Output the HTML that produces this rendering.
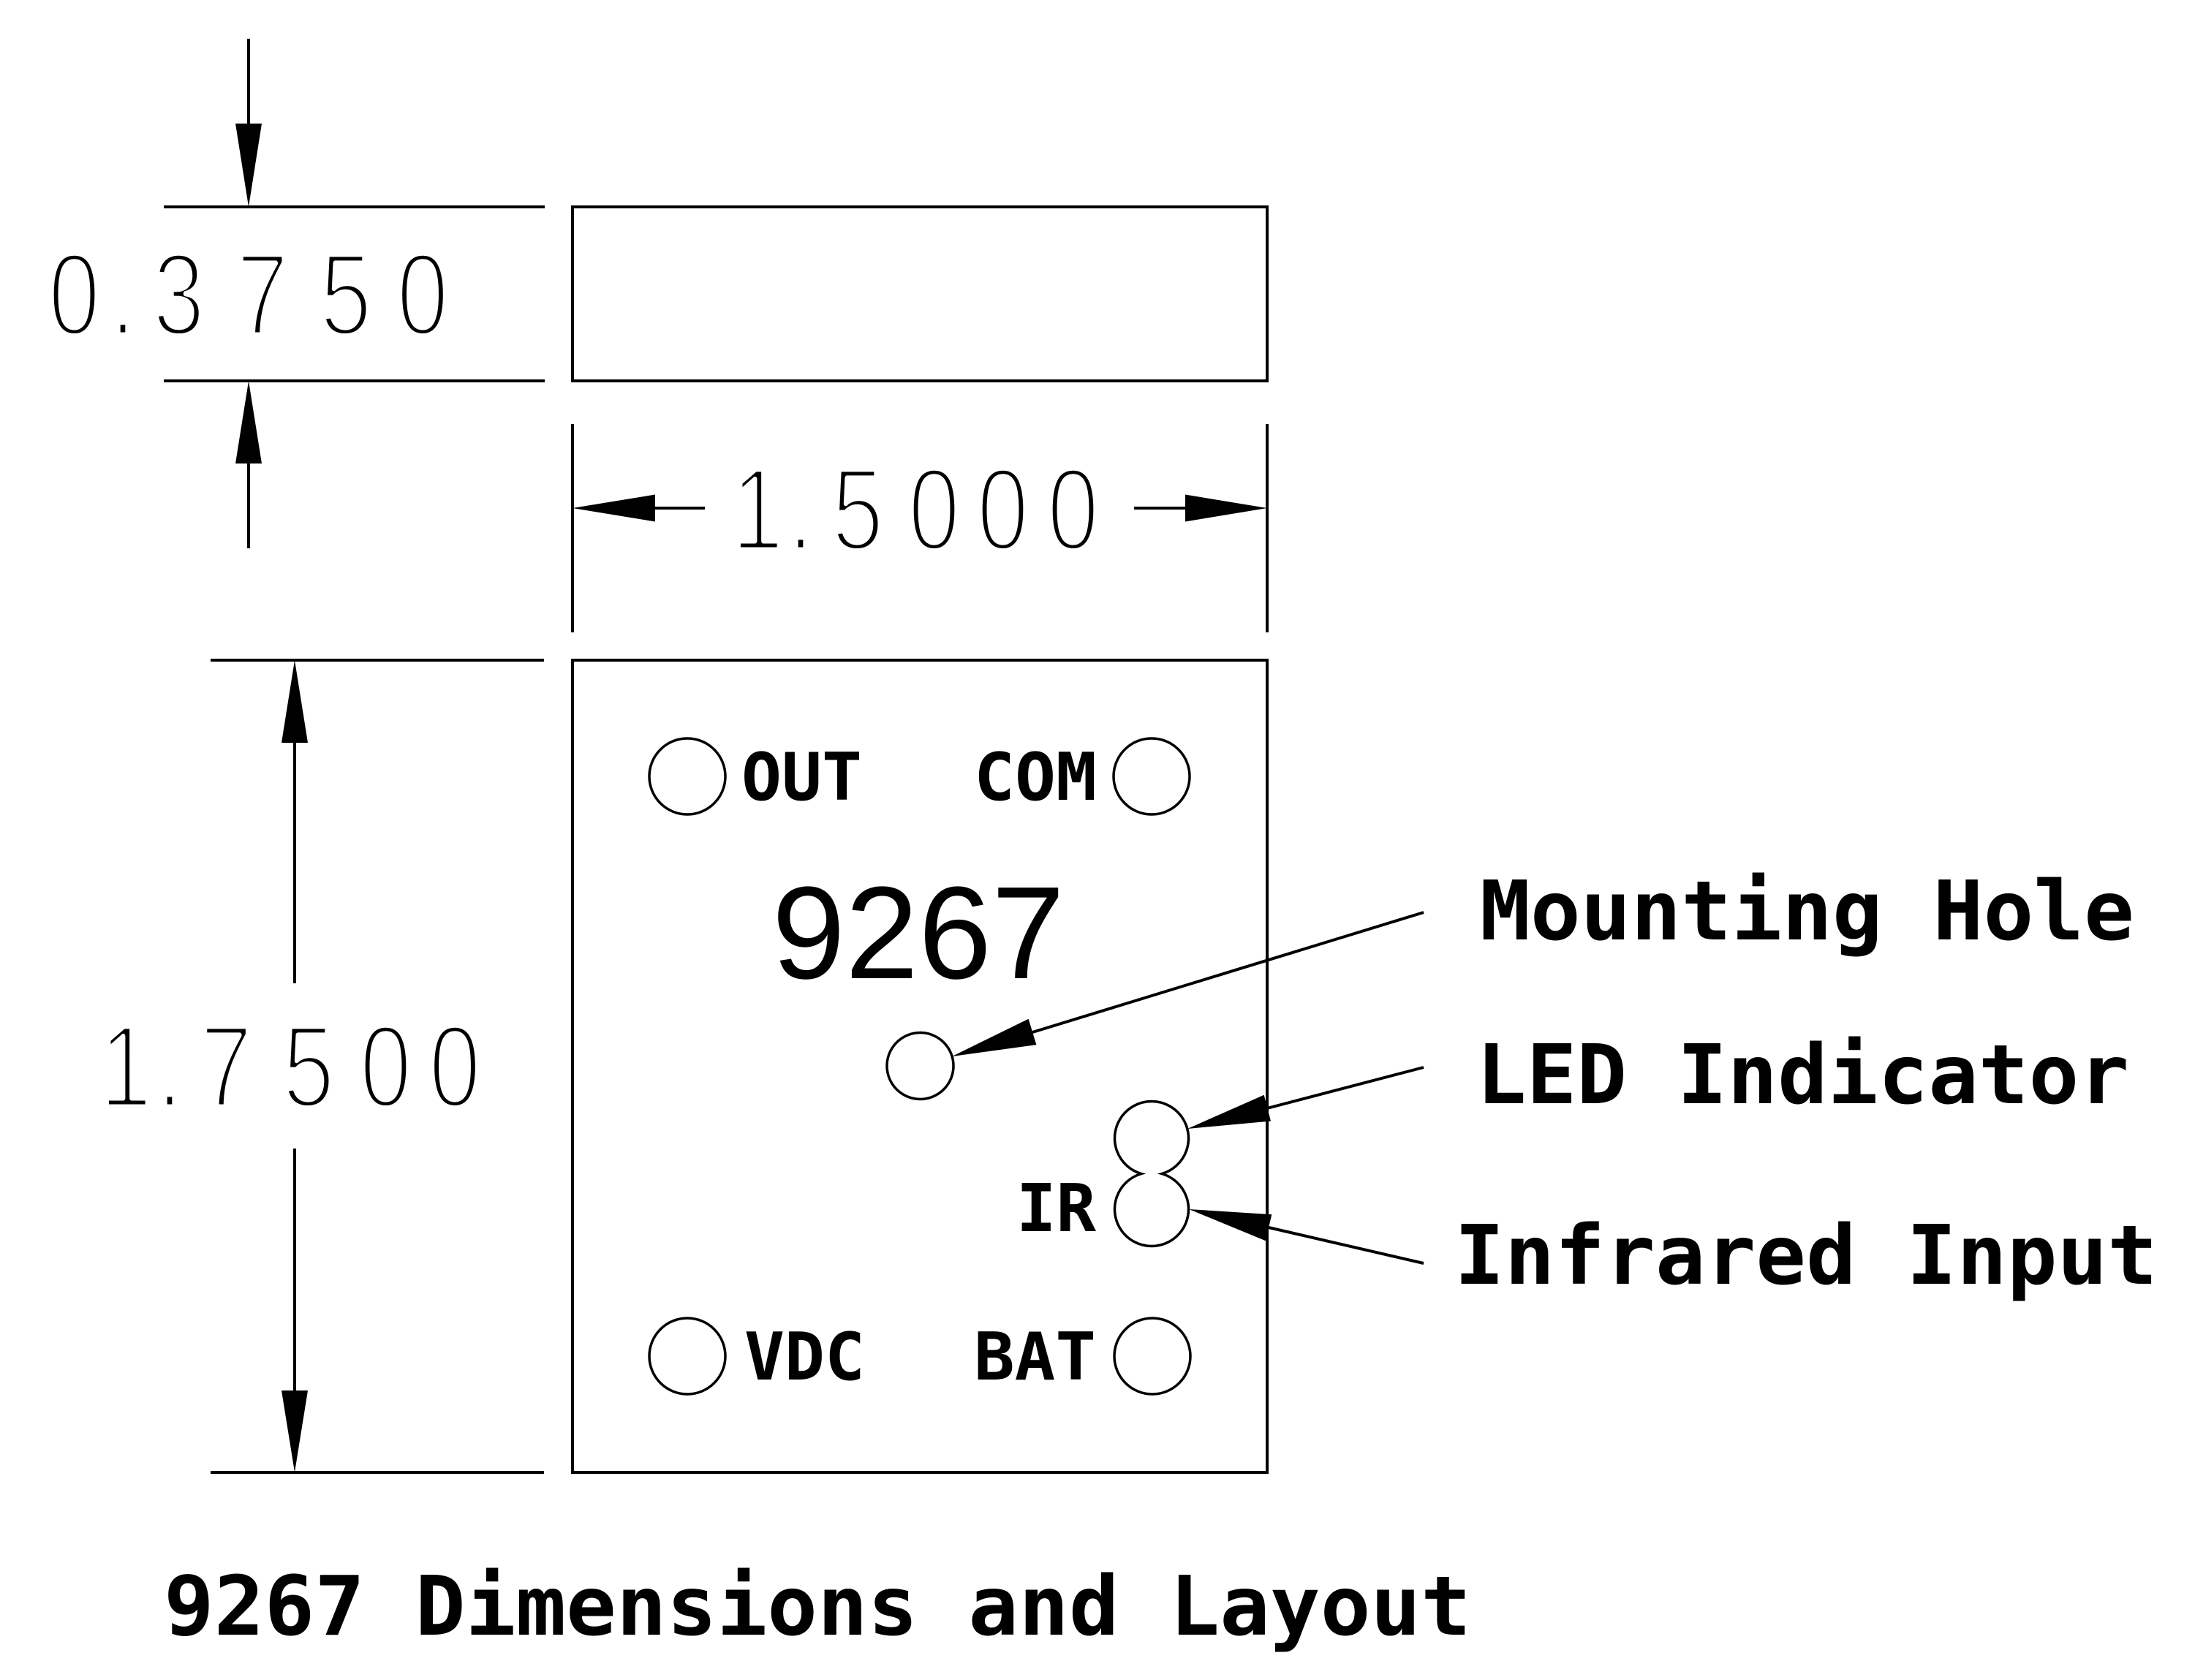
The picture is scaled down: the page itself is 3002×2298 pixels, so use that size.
<!DOCTYPE html>
<html><head><meta charset="utf-8"><style>
html,body{margin:0;padding:0;background:#fff;}
svg{display:block;}
.cad{font-family:"Liberation Sans",sans-serif;font-size:160px;fill:#000;stroke:#fff;stroke-width:7px;stroke-linejoin:round;}
.mono{font-family:"DejaVu Sans Mono","Liberation Mono",monospace;font-weight:bold;fill:#000;}
</style></head><body>
<svg width="3002" height="2298" viewBox="0 0 3002 2298" xmlns="http://www.w3.org/2000/svg">
<rect x="0" y="0" width="3002" height="2298" fill="#fff"/>
<g stroke="#000" stroke-width="4" fill="none" stroke-linecap="butt">
  <!-- 0.3750 dimension -->
  <path d="M340 53 V170"/>
  <path d="M340 633 V750"/>
  <path d="M224 283 H745"/>
  <path d="M224 521 H745"/>
  <rect x="783" y="283" width="950" height="238"/>
  <!-- 1.5000 dimension -->
  <path d="M783 580 V865"/>
  <path d="M1733 580 V865"/>
  <path d="M895 695 H964"/>
  <path d="M1551 695 H1622"/>
  <!-- 1.7500 dimension -->
  <path d="M288 903 H744"/>
  <path d="M288 2014 H744"/>
  <path d="M403 1015 V1345"/>
  <path d="M403 1571 V1903"/>
  <!-- main board -->
  <rect x="783" y="903" width="950" height="1111"/>
  <!-- leaders -->
  <path d="M1947 1248 L1412 1412"/>
  <path d="M1947 1460 L1733 1516"/>
  <path d="M1947 1728 L1735 1679"/>
</g>
<g stroke="#000" stroke-width="3.5" fill="none">
  <circle cx="940" cy="1062" r="52"/>
  <circle cx="1575" cy="1062" r="52"/>
  <circle cx="940" cy="1855" r="52"/>
  <circle cx="1576" cy="1855" r="52"/>
  <circle cx="1258.5" cy="1458" r="45.5"/>
  <path d="M1561 1605.5 A50.5 50.5 0 1 1 1589 1605.5 A50.5 50.5 0 1 1 1561 1605.5 Z"/>
</g>
<g fill="#000" stroke="none">
  <polygon points="340,283 322,169 358,169"/>
  <polygon points="340,521 322,634 358,634"/>
  <polygon points="783,695 896,676.5 896,713.5"/>
  <polygon points="1733,695 1621,676.5 1621,713.5"/>
  <polygon points="403,903 385,1016 421,1016"/>
  <polygon points="403,2014 385,1902 421,1902"/>
  <polygon points="1302,1445 1417.4,1429.1 1406.6,1393.7"/>
  <polygon points="1624,1544 1738,1533.5 1728.7,1497.7"/>
  <polygon points="1626,1654 1730.9,1697.2 1739.3,1661.2"/>
</g>

<!-- CAD dimension text -->
<g class="cad" text-anchor="middle">
  <text transform="translate(101.5,458) scale(0.8,1)">0</text>
  <text transform="translate(168,458) scale(0.8,1)">.</text>
  <text transform="translate(244.5,458) scale(0.8,1)">3</text>
  <text transform="translate(359,458) scale(0.8,1)">7</text>
  <text transform="translate(473,458) scale(0.8,1)">5</text>
  <text transform="translate(578,458) scale(0.8,1)">0</text>

  <text transform="translate(1036,752) scale(0.8,1)">1</text>
  <text transform="translate(1095,752) scale(0.8,1)">.</text>
  <text transform="translate(1173,752) scale(0.8,1)">5</text>
  <text transform="translate(1277.5,752) scale(0.8,1)">0</text>
  <text transform="translate(1371.5,752) scale(0.8,1)">0</text>
  <text transform="translate(1467.5,752) scale(0.8,1)">0</text>

  <text transform="translate(172,1514) scale(0.8,1)">1</text>
  <text transform="translate(232,1514) scale(0.8,1)">.</text>
  <text transform="translate(309.5,1514) scale(0.8,1)">7</text>
  <text transform="translate(422,1514) scale(0.8,1)">5</text>
  <text transform="translate(527.5,1514) scale(0.8,1)">0</text>
  <text transform="translate(622,1514) scale(0.8,1)">0</text>
</g>

<!-- big part number -->
<text x="1256" y="1338" text-anchor="middle" font-family="Liberation Sans, sans-serif" font-size="180" fill="#000">9267</text>

<!-- board labels -->
<g class="mono" font-size="90">
  <text x="1014" y="1094" textLength="165" lengthAdjust="spacingAndGlyphs">OUT</text>
  <text x="1332" y="1094" textLength="168" lengthAdjust="spacingAndGlyphs">COM</text>
  <text x="1018" y="1887" textLength="165" lengthAdjust="spacingAndGlyphs">VDC</text>
  <text x="1332" y="1887" textLength="167" lengthAdjust="spacingAndGlyphs">BAT</text>
  <text x="1390" y="1684" textLength="109" lengthAdjust="spacingAndGlyphs">IR</text>
</g>

<!-- callout labels -->
<g class="mono" font-size="112">
  <text x="2024" y="1285" textLength="895" lengthAdjust="spacingAndGlyphs">Mounting Hole</text>
  <text x="2019" y="1509" textLength="893" lengthAdjust="spacingAndGlyphs">LED Indicator</text>
  <text x="1989" y="1756" textLength="962" lengthAdjust="spacingAndGlyphs">Infrared Input</text>
  <text x="224" y="2236" textLength="1788" lengthAdjust="spacingAndGlyphs">9267 Dimensions and Layout</text>
</g>
</svg>
</body></html>
